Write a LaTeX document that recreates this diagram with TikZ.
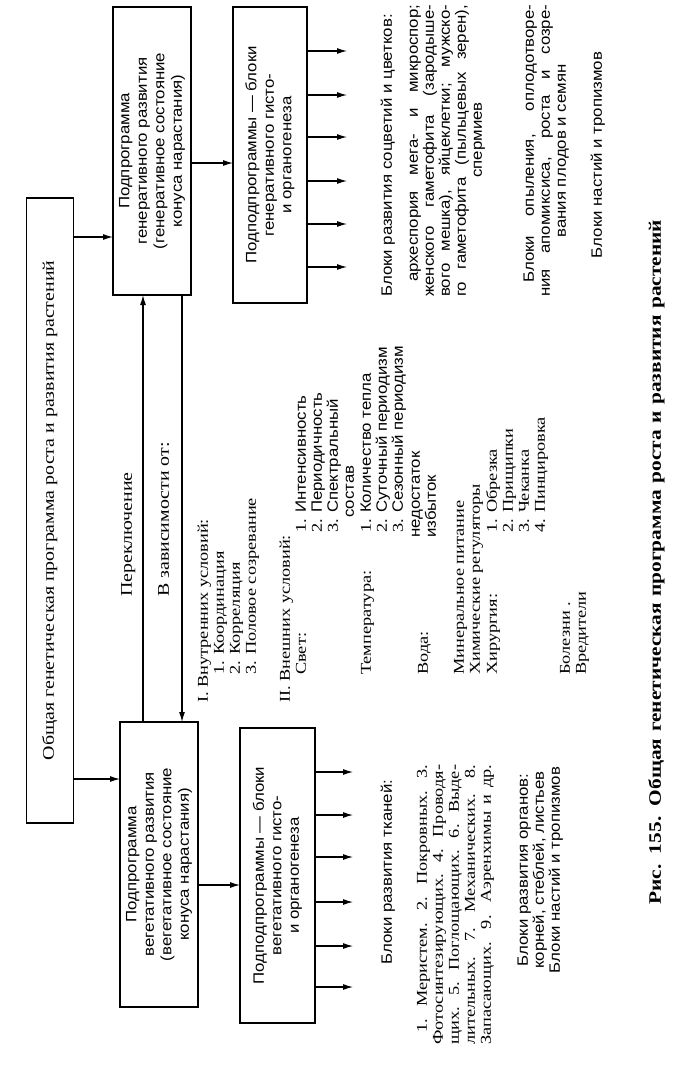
\documentclass[tikz,border=0pt]{standalone}
\usepackage{fontspec}
\setmainfont[FakeStretch=1.22]{Liberation Serif}
\setsansfont[FakeStretch=1.12]{Liberation Sans}
\usetikzlibrary{arrows.meta}
\newcommand\myfs{\fontsize{15}{17}\selectfont}
\newcommand\mybigfs{\fontsize{16.3}{18}\selectfont}
\newcommand\myboxfs{\fontsize{15}{17.5}\selectfont}
\newcommand\mycapfs{\fontsize{17.5}{19}\selectfont}
\begin{document}
\begin{tikzpicture}[x=1pt,y=-1pt]
\tikzset{
  boxst/.style={draw, line width=1.1pt, inner sep=0pt, outer sep=0pt},
  arr/.style={line width=1.1pt, -{Latex[length=10pt,width=6pt]}},
  ln/.style={rotate=90, inner sep=0pt, text height=10.5pt, text depth=3pt, font=\myfs},
  lns/.style={ln, font=\myfs\sffamily},
  bl/.style={rotate=90, inner sep=0pt, align=center, font=\myboxfs\sffamily},
}
\useasboundingbox (0,0) rectangle (691,1082);
\fill[white] (0,0) rectangle (691,1082);

% boxes
\node[boxst, minimum width=47pt, minimum height=625pt] (big) at (50,510.5) {};
\node[boxst, minimum width=78pt, minimum height=288pt] (gen) at (152,151) {};
\node[boxst, minimum width=78pt, minimum height=285pt] (veg) at (159,864.5) {};
\node[boxst, minimum width=74pt, minimum height=296pt] (rtop) at (270,155) {};
\node[boxst, minimum width=75pt, minimum height=295pt] (rbot) at (277.5,875.5) {};

\node[ln, font=\mybigfs] (bigt) at (big.center) {Общая генетическая программа роста и развития растений};
\node[bl] (gent) at (gen.center) {Подпрограмма\\генеративного развития\\(генеративное состояние\\конуса нарастания)};
\node[bl] (vegt) at (veg.center) {Подпрограмма\\вегетативного развития\\(вегетативное состояние\\конуса нарастания)};
\node[bl] (rtopt) at (rtop.center) {Подподпрограммы — блоки\\генеративного гисто-\\и органогенеза};
\node[bl] (rbott) at (rbot.center) {Подподпрограммы — блоки\\вегетативного гисто-\\и органогенеза};

% connectors
\coordinate (a1) at (0,237);
\coordinate (a2) at (0,779);
\coordinate (a3) at (0,163);
\coordinate (a4) at (0,885);
\coordinate (c1) at (143,0);
\coordinate (c2) at (182,0);
\draw[arr] (big.east |- a1) -- (gen.west |- a1);
\draw[arr] (big.east |- a2) -- (veg.west |- a2);
\draw[arr] (gen.east |- a3) -- (rtop.west |- a3);
\draw[arr] (veg.east |- a4) -- (rbot.west |- a4);
\draw[arr] (veg.north -| c1) -- (gen.south -| c1);
\draw[arr] (gen.south -| c2) -- (veg.north -| c2);
\foreach \yy [count=\i] in {51,95,137,181,224,267} {
  \coordinate (tt\i) at (347,\yy);
  \draw[arr] (rtop.east |- tt\i) -- (tt\i);
}
\foreach \yy [count=\i] in {772,815,857,902,946,987} {
  \coordinate (tb\i) at (353,\yy);
  \draw[arr] (rbot.east |- tb\i) -- (tb\i);
}

% labels on connectors
\node[ln, font=\mybigfs, anchor=west] (lsw) at (128,597) {Переключение};
\node[ln, font=\mybigfs, anchor=west] (ldep) at (165,597) {В зависимости от:};

% conditions
\node[ln,anchor=west] (i1) at (204,703) {I. Внутренних условий:};
\node[ln,anchor=west] (i2) at (220,675) {1. Координация};
\node[ln,anchor=west] (i3) at (236,675) {2. Корреляция};
\node[ln,anchor=west] (i4) at (252,675) {3. Половое созревание};
\node[ln,anchor=west] (e1) at (286,703) {II. Внешних условий:};
\node[ln,anchor=west] (e2) at (302,675) {Свет:};
\node[ln,anchor=west] (e3) at (302,533) {1. \textsf{Интенсивность}};
\node[ln,anchor=west] (e4) at (318,533) {2. \textsf{Периодичность}};
\node[ln,anchor=west] (e5) at (334,533) {3. \textsf{Спектральный}};
\node[lns,anchor=west] (e6) at (350,518) {состав};
\node[ln,anchor=west] (e7) at (367,675) {Температура:};
\node[ln,anchor=west] (e8) at (367,533) {1. \textsf{Количество тепла}};
\node[ln,anchor=west] (e9) at (383,533) {2. \textsf{Суточный периодизм}};
\node[ln,anchor=west] (e10) at (399,533) {3. \textsf{Сезонный периодизм}};
\node[lns,anchor=west] (e11) at (416,538) {недостаток};
\node[ln,anchor=west] (e12) at (424,675) {Вода:};
\node[lns,anchor=west] (e13) at (432,538) {избыток};
\node[ln,anchor=west] (e14) at (460,675) {Минеральное питание};
\node[ln,anchor=west] (e15) at (476,675) {Химические регуляторы};
\node[ln,anchor=west] (e16) at (493,675) {Хирургия:};
\node[ln,anchor=west] (e17) at (493,533) {1. Обрезка};
\node[ln,anchor=west] (e18) at (509,533) {2. Прищипки};
\node[ln,anchor=west] (e19) at (525,533) {3. Чеканка};
\node[ln,anchor=west] (e20) at (541,533) {4. Пинцировка};
\node[ln,anchor=west] (e21) at (566,675) {Болезни .};
\node[ln,anchor=west] (e22) at (582,675) {Вредители};

% generative blocks
\node[lns,anchor=west] (g0) at (388,297) {Блоки развития соцветий и цветков:};
\node[lns,anchor=west] (g1) at (414,282) {\makebox[277pt][s]{археспория мега- и микроспор;}};
\node[lns,anchor=west] (g2) at (430,297) {\makebox[292pt][s]{женского гаметофита (зародыше-}};
\node[lns,anchor=west] (g3) at (446,297) {\makebox[292pt][s]{вого мешка), яйцеклетки; мужско-}};
\node[lns,anchor=west] (g4) at (462,297) {\makebox[292pt][s]{го гаметофита (пыльцевых зерен),}};
\node[lns] (g5) at (478,140) {спермиев};
\node[lns,anchor=west] (g6) at (530,283) {\makebox[278pt][s]{Блоки опыления, оплодотворе-}};
\node[lns,anchor=west] (g7) at (546,297) {\makebox[292pt][s]{ния апомиксиса, роста и созре-}};
\node[lns] (g8) at (562,151) {вания плодов и семян};
\node[lns] (g9) at (598,155) {Блоки настий и тропизмов};

% vegetative blocks
\node[lns] (v0) at (388,872) {Блоки развития тканей:};
\node[ln,anchor=west] (v1) at (423,1033) {\makebox[268pt][s]{1. Меристем. 2. Покровных. 3.}};
\node[ln,anchor=west] (v2) at (439,1045) {\makebox[280pt][s]{Фотосинтезирующих. 4. Проводя-}};
\node[ln,anchor=west] (v3) at (455,1045) {\makebox[280pt][s]{щих. 5. Поглощающих. 6. Выде-}};
\node[ln,anchor=west] (v4) at (471,1045) {\makebox[280pt][s]{лительных. 7. Механических. 8.}};
\node[ln,anchor=west] (v5) at (487,1045) {\makebox[280pt][s]{Запасающих. 9. Аэренхимы и др.}};
\node[lns] (v6) at (524,870) {Блоки развития органов:};
\node[lns] (v7) at (540,870) {корней, стеблей, листьев};
\node[lns] (v8) at (556,870) {Блоки настий и тропизмов};

% caption
\node[ln, font=\mycapfs\bfseries, anchor=west] (cap) at (657,905) {\makebox[685pt][s]{Рис. 155. Общая генетическая программа роста и развития растений}};
\end{tikzpicture}
\end{document}
